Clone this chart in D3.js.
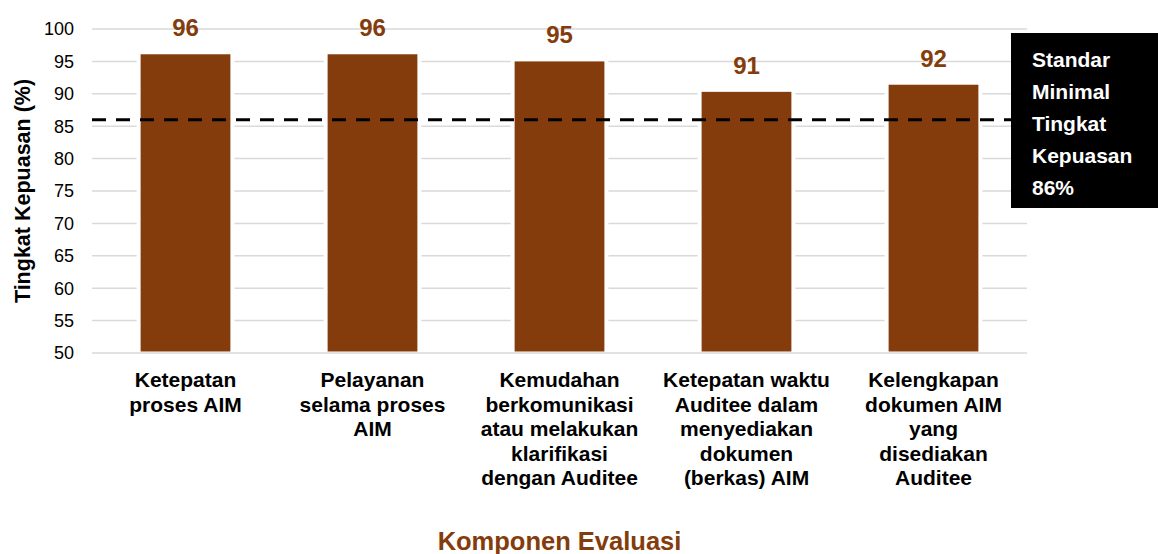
<!DOCTYPE html>
<html>
<head>
<meta charset="utf-8">
<script src="https://cdn.jsdelivr.net/npm/d3@7"></script>
<style>
  body { margin: 0; background: #fff; }
  text { font-family: "Liberation Sans", Arial, sans-serif; }
</style>
</head>
<body>
<svg width="1158" height="554"></svg>
<script>
// data
var categories = [
    ["Ketepatan", "proses AIM"],
    ["Pelayanan", "selama proses", "AIM"],
    ["Kemudahan", "berkomunikasi", "atau melakukan", "klarifikasi", "dengan Auditee"],
    ["Ketepatan waktu", "Auditee dalam", "menyediakan", "dokumen", "(berkas) AIM"],
    ["Kelengkapan", "dokumen AIM", "yang", "disediakan", "Auditee"]
];
var values = [96.1, 96.1, 95.0, 90.3, 91.4];
var valueLabels = ["96", "96", "95", "91", "92"];
var yTicks = [50, 55, 60, 65, 70, 75, 80, 85, 90, 95, 100];
var standard = 86;
var standardLines = ["Standar", "Minimal", "Tingkat", "Kepuasan", "86%"];

var brown = "#843C0C";

var svg = d3.select("svg"),
    margin = {top: 29, right: 131, bottom: 201, left: 92},
    width = +svg.attr("width") - margin.left - margin.right,
    height = +svg.attr("height") - margin.top - margin.bottom,
    g = svg.append("g").attr("transform", "translate(" + margin.left + "," + margin.top + ")");

var x = d3.scaleBand()
    .domain(d3.range(categories.length))
    .range([0, width])
    .paddingInner(0.52)
    .paddingOuter(0.26);

var y = d3.scaleLinear()
    .domain([50, 100])
    .range([height, 0]);

// gridlines
g.append("g").selectAll("line")
    .data(yTicks)
    .enter().append("line")
    .attr("x1", 0).attr("x2", width)
    .attr("y1", function(d) { return y(d); })
    .attr("y2", function(d) { return y(d); })
    .attr("stroke", "#d9d9d9")
    .attr("stroke-width", 1.5);

// y tick labels
g.append("g").selectAll("text")
    .data(yTicks)
    .enter().append("text")
    .attr("x", -18)
    .attr("y", function(d) { return y(d); })
    .attr("dy", "0.35em")
    .attr("text-anchor", "end")
    .attr("font-size", 18)
    .attr("fill", "#000")
    .text(function(d) { return d; });

// white gaps round the bars
g.append("g").selectAll("rect")
    .data(values)
    .enter().append("rect")
    .attr("x", function(d, i) { return x(i) - 4; })
    .attr("width", x.bandwidth() + 8)
    .attr("y", function(d) { return y(d) - 4; })
    .attr("height", function(d) { return height - y(d) + 2; })
    .attr("fill", "#fff");

// bars
g.append("g").selectAll("rect")
    .data(values)
    .enter().append("rect")
    .attr("x", function(d, i) { return x(i); })
    .attr("width", x.bandwidth())
    .attr("y", function(d) { return y(d); })
    .attr("height", function(d) { return height - y(d) - 1.5; })
    .attr("fill", brown);

// value labels
g.append("g").selectAll("text")
    .data(values)
    .enter().append("text")
    .attr("x", function(d, i) { return x(i) + x.bandwidth() / 2; })
    .attr("y", function(d) { return y(d) - 18; })
    .attr("text-anchor", "middle")
    .attr("font-size", 24)
    .attr("font-weight", "bold")
    .attr("fill", brown)
    .text(function(d, i) { return valueLabels[i]; });

// standard line
g.append("line")
    .attr("x1", 0).attr("x2", width)
    .attr("y1", y(standard)).attr("y2", y(standard))
    .attr("stroke", "#000")
    .attr("stroke-width", 3)
    .attr("stroke-dasharray", "14,10");

// category labels
var cat = g.append("g").selectAll("text")
    .data(categories)
    .enter().append("text")
    .attr("text-anchor", "middle")
    .attr("font-size", 21)
    .attr("font-weight", "bold")
    .attr("fill", "#000")
    .attr("transform", function(d, i) { return "translate(" + (x(i) + x.bandwidth() / 2) + "," + (height + 34) + ")"; });
cat.selectAll("tspan")
    .data(function(d) { return d; })
    .enter().append("tspan")
    .attr("x", 0)
    .attr("y", function(d, i) { return i * 24.5; })
    .text(function(d) { return d; });

// axis titles
svg.append("text")
    .attr("transform", "translate(30," + (margin.top + height / 2) + ") rotate(-90)")
    .attr("text-anchor", "middle")
    .attr("font-size", 21.5)
    .attr("font-weight", "bold")
    .attr("fill", "#000")
    .text("Tingkat Kepuasan (%)");

svg.append("text")
    .attr("x", margin.left + width / 2)
    .attr("y", 550)
    .attr("text-anchor", "middle")
    .attr("font-size", 25.5)
    .attr("font-weight", "bold")
    .attr("fill", brown)
    .text("Komponen Evaluasi");

// black box
var box = svg.append("g").attr("transform", "translate(1011,33)");
box.append("rect")
    .attr("width", 147)
    .attr("height", 175)
    .attr("fill", "#000");
box.selectAll("text")
    .data(standardLines)
    .enter().append("text")
    .attr("x", 21)
    .attr("y", function(d, i) { return 34 + i * 32; })
    .attr("font-size", 21)
    .attr("font-weight", "bold")
    .attr("fill", "#fff")
    .text(function(d) { return d; });
</script>
</body>
</html>
